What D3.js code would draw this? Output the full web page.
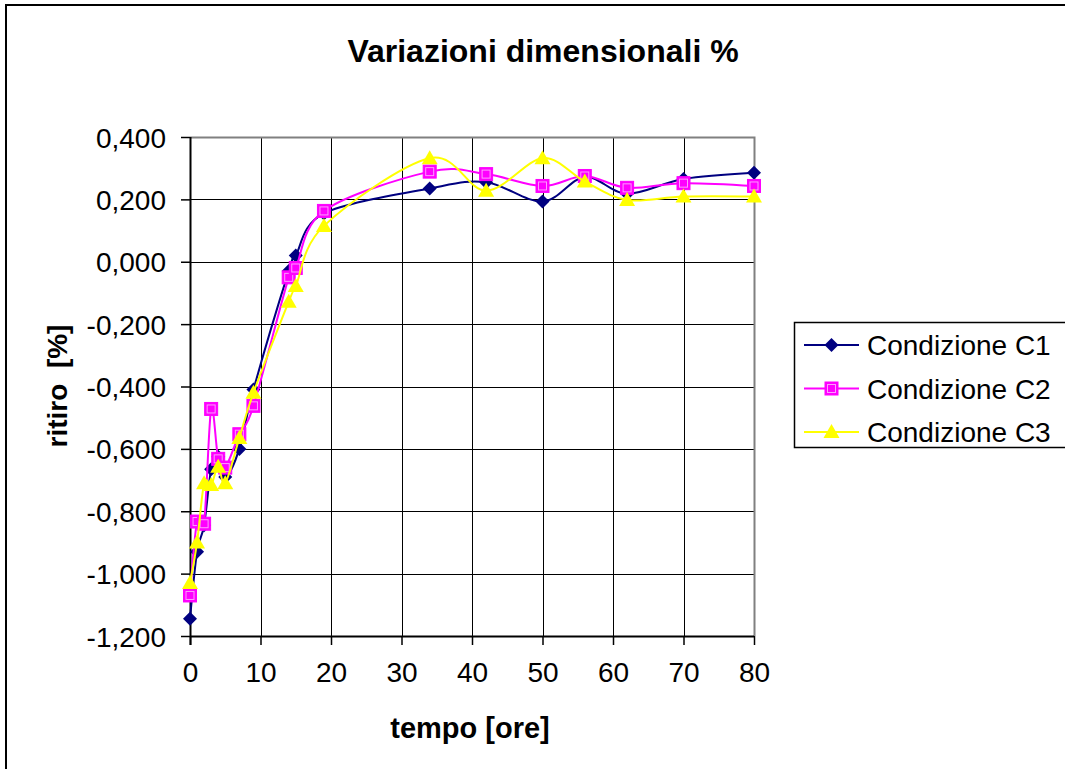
<!DOCTYPE html>
<html>
<head>
<meta charset="utf-8">
<script src="https://cdn.jsdelivr.net/npm/d3@7"></script>
<style>
  html, body { margin: 0; background: #fff; overflow: hidden; }
  svg { display: block; }
  svg text { font-family: "Liberation Sans", Arial, sans-serif; }
</style>
</head>
<body>
<div id="chart"></div>
<script>
// time in hours
const tempo = [0, 1, 2, 3, 4, 5, 7, 9, 14, 15, 19, 34, 42, 50, 56, 62, 70, 80];

// shrinkage values (%)
const c1 = [-1.145, -0.93, -0.845, -0.665, -0.625, -0.69, -0.60, -0.41, -0.03, 0.02, 0.155, 0.235, 0.255, 0.193, 0.272, 0.218, 0.265, 0.285];
const c2 = [-1.07, -0.833, -0.84, -0.472, -0.632, -0.66, -0.553, -0.462, -0.05, -0.02, 0.163, 0.289, 0.281, 0.243, 0.275, 0.237, 0.252, 0.243];
const c3 = [-1.03, -0.90, -0.71, -0.716, -0.657, -0.71, -0.565, -0.42, -0.128, -0.078, 0.115, 0.332, 0.228, 0.332, 0.257, 0.198, 0.209, 0.209];

const seriesNames = ["Condizione C1", "Condizione C2", "Condizione C3"];
const seriesColors = ["#000080", "#ff00ff", "#ffff00"];
const seriesMarkers = ["diamond", "square", "triangle"];
const yTicks = [0.4, 0.2, 0, -0.2, -0.4, -0.6, -0.8, -1.0, -1.2];
const xTicks = [0, 10, 20, 30, 40, 50, 60, 70, 80];

const width = 1065, height = 769;
const plot = { left: 190, right: 754, top: 137, bottom: 636 };

const it = d3.formatLocale({ decimal: ",", thousands: ".", grouping: [3], currency: ["", "€"], minus: "-" });
const fmt = it.format(".3f");

const svg = d3.select("#chart").append("svg")
    .attr("width", width)
    .attr("height", height);

// outer chart border (right and bottom edges fall outside the picture)
svg.append("rect")
    .attr("x", 6).attr("y", 5)
    .attr("width", width + 40).attr("height", height + 40)
    .attr("fill", "#fff")
    .attr("stroke", "#000")
    .attr("stroke-width", 2);

const x = d3.scaleLinear().domain([0, 80]).range([plot.left, plot.right]);
const y = d3.scaleLinear().domain([-1.2, 0.4]).range([plot.bottom, plot.top]);

// grid
const grid = svg.append("g");
grid.selectAll("line.h")
    .data(yTicks.filter(v => v > -1.2 && v < 0.4))
    .enter().append("line")
    .attr("x1", plot.left).attr("x2", plot.right)
    .attr("y1", d => Math.round(y(d)) + 0.5).attr("y2", d => Math.round(y(d)) + 0.5)
    .attr("stroke", "#000");
grid.selectAll("line.v")
    .data(xTicks.filter(v => v > 0 && v < 80))
    .enter().append("line")
    .attr("x1", d => Math.round(x(d)) + 0.5).attr("x2", d => Math.round(x(d)) + 0.5)
    .attr("y1", plot.top).attr("y2", plot.bottom)
    .attr("stroke", "#000");

// plot area border (top / right in gray)
svg.append("path")
    .attr("d", `M${plot.left},${plot.top + 0.5}H${plot.right + 0.5}V${plot.bottom}`)
    .attr("fill", "none")
    .attr("stroke", "#808080")
    .attr("stroke-width", 2);

// axes
const yAxis = svg.append("g")
    .attr("transform", `translate(${plot.left},0)`)
    .call(d3.axisLeft(y).tickValues(yTicks).tickFormat(fmt).tickSize(9).tickPadding(15));
const xAxis = svg.append("g")
    .attr("transform", `translate(0,${plot.bottom})`)
    .call(d3.axisBottom(x).tickValues(xTicks).tickSize(9).tickPadding(17));

[yAxis, xAxis].forEach(a => {
    a.select(".domain").attr("stroke", "#000").attr("stroke-width", 2);
    a.selectAll(".tick line").attr("stroke", "#000").attr("stroke-width", 1.5);
    a.selectAll(".tick text")
        .attr("fill", "#000")
        .style("font-size", "28px");
});
yAxis.selectAll(".tick text").attr("dy", "0.36em");
xAxis.select(".domain").attr("d", `M${plot.left},0.5H${plot.right}`);
yAxis.select(".domain").attr("d", `M0.5,${plot.top}V${plot.bottom + 9}`);

// titles
svg.append("text")
    .attr("x", 543).attr("y", 62)
    .attr("text-anchor", "middle")
    .style("font-size", "32px").style("font-weight", "bold")
    .text("Variazioni dimensionali %");

svg.append("text")
    .attr("x", 470).attr("y", 738)
    .attr("text-anchor", "middle")
    .style("font-size", "29px").style("font-weight", "bold")
    .text("tempo [ore]");

svg.append("text")
    .attr("transform", "translate(67,386) rotate(-90)")
    .attr("text-anchor", "middle")
    .style("font-size", "28px").style("font-weight", "bold")
    .style("white-space", "pre")
    .text("ritiro  [%]");

function drawMarker(g, type, color) {
    if (type === "diamond") {
        g.append("path").attr("d", "M0,-7L7,0L0,7L-7,0Z").attr("fill", color);
    } else if (type === "square") {
        g.append("rect").attr("x", -6.5).attr("y", -6.5).attr("width", 13).attr("height", 13)
            .attr("fill", color).attr("stroke", color);
        g.append("rect").attr("x", -4).attr("y", -4).attr("width", 8).attr("height", 8)
            .attr("fill", "none").attr("stroke", "#ff9cff").attr("stroke-width", 1);
    } else {
        g.append("path").attr("d", "M0,-8L8,6L-8,6Z").attr("fill", color);
    }
}

const line = d3.line()
    .x(d => x(d[0]))
    .y(d => y(d[1]))
    .curve(d3.curveCardinal.tension(0));

[c1, c2, c3].forEach((vals, i) => {
    const pts = tempo.map((t, k) => [t, vals[k]]);
    svg.append("path")
        .datum(pts)
        .attr("d", line)
        .attr("fill", "none")
        .attr("stroke", seriesColors[i])
        .attr("stroke-width", 2);
    pts.forEach(p => {
        const g = svg.append("g").attr("transform", `translate(${x(p[0])},${y(p[1])})`);
        drawMarker(g, seriesMarkers[i], seriesColors[i]);
    });
});

// legend
const legend = svg.append("g");
legend.append("rect")
    .attr("x", 794.5).attr("y", 322.5)
    .attr("width", 300).attr("height", 125)
    .attr("fill", "#fff")
    .attr("stroke", "#000")
    .attr("stroke-width", 1.5);
seriesNames.forEach((name, i) => {
    const ly = 345 + i * 43.5;
    legend.append("line")
        .attr("x1", 804).attr("x2", 859)
        .attr("y1", ly).attr("y2", ly)
        .attr("stroke", seriesColors[i]).attr("stroke-width", 2);
    const g = legend.append("g").attr("transform", `translate(831.5,${ly})`);
    drawMarker(g, seriesMarkers[i], seriesColors[i]);
    legend.append("text")
        .attr("x", 867).attr("y", ly)
        .attr("dy", "0.36em")
        .style("font-size", "28px")
        .text(name);
});
</script>
</body>
</html>
